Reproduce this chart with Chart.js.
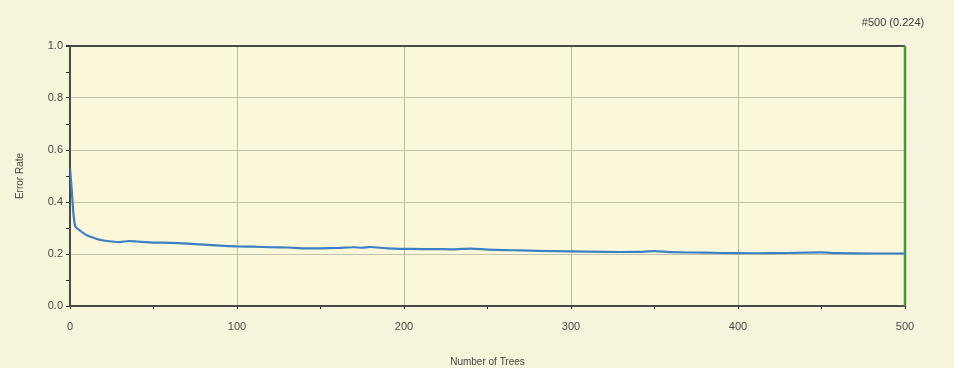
<!DOCTYPE html>
<html lang="en">
<head>
    <meta charset="UTF-8">
    <title>Error Rate vs Number of Trees</title>
    <script src="https://cdnjs.cloudflare.com/ajax/libs/Chart.js/4.4.0/chart.umd.min.js"></script>
    <style>
        html, body {
            margin: 0;
            padding: 0;
            background: #f7f4dc;
        }
        .chart-container {
            width: 954px;
            height: 368px;
        }
    </style>
</head>
<body>
    <div class="chart-container">
        <canvas id="errChart"></canvas>
    </div>

    <script>
        // Values
        const trees = [0, 1, 2, 3, 4, 6, 8, 10, 13, 16, 20, 25, 30, 35, 40, 45, 50, 60, 70, 80, 90, 100,
            110, 120, 130, 140, 150, 160, 170, 175, 180, 190, 200, 210, 220, 230, 240, 250, 260, 270,
            280, 300, 320, 340, 350, 360, 380, 400, 420, 440, 450, 460, 480, 500];
        const errorRate = [0.53, 0.45, 0.36, 0.31, 0.30, 0.29, 0.28, 0.272, 0.265, 0.258, 0.252, 0.248, 0.246, 0.25, 0.248, 0.246, 0.244, 0.243, 0.24, 0.236, 0.232, 0.229,
            0.228, 0.226, 0.225, 0.222, 0.222, 0.223, 0.226, 0.224, 0.227, 0.222, 0.22, 0.219, 0.219, 0.218, 0.221, 0.217, 0.215, 0.214,
            0.212, 0.21, 0.208, 0.208, 0.211, 0.207, 0.205, 0.203, 0.203, 0.205, 0.206, 0.203, 0.202, 0.202];
        const lastTree = 500;
        const markerLabel = '#500 (0.224)';

        const yMajor = [0, 0.2, 0.4, 0.6, 0.8, 1.0];
        const xMajor = [0, 100, 200, 300, 400, 500];

        const isMajor = (list, v) => list.some(m => Math.abs(m - v) < 1e-6);
        const font = '"Liberation Sans", Arial, sans-serif';

        const bgPlugin = {
            id: 'bg',
            beforeDraw(chart) {
                const { ctx, chartArea } = chart;
                ctx.save();
                ctx.fillStyle = '#f7f4dc';
                ctx.fillRect(0, 0, chart.width, chart.height);
                ctx.fillStyle = '#faf7da';
                ctx.fillRect(chartArea.left, chartArea.top, chartArea.right - chartArea.left, chartArea.bottom - chartArea.top);
                ctx.restore();
            },
            afterDraw(chart) {
                const { ctx } = chart;
                const xs = chart.scales.x;
                ctx.save();
                ctx.font = '11px ' + font;
                ctx.fillStyle = '#3c3c3c';
                ctx.textAlign = 'center';
                ctx.fillText(markerLabel, xs.getPixelForValue(lastTree) - 12, 26);
                ctx.restore();
            }
        };

        new Chart(document.getElementById('errChart'), {
            type: 'line',
            data: {
                datasets: [{
                    label: 'Error Rate',
                    data: trees.map((t, i) => ({ x: t, y: errorRate[i] })),
                    borderColor: '#3b80c4',
                    borderWidth: 2.2,
                    pointRadius: 0,
                    tension: 0.2
                }, {
                    label: 'Current',
                    data: [{ x: lastTree, y: 0 }, { x: lastTree, y: 1 }],
                    borderColor: '#3f9c3a',
                    borderWidth: 2.5,
                    pointRadius: 0,
                    clip: false
                }]
            },
            options: {
                responsive: true,
                maintainAspectRatio: false,
                animation: false,
                layout: {
                    padding: { left: 14, right: 49, top: 46, bottom: 0 }
                },
                plugins: {
                    legend: { display: false },
                    tooltip: { enabled: false }
                },
                scales: {
                    x: {
                        type: 'linear',
                        min: 0,
                        max: 500,
                        afterFit(scale) { scale.height = 62; },
                        afterBuildTicks(scale) {
                            const t = [];
                            for (let v = 0; v <= 500; v += 50) t.push({ value: v });
                            scale.ticks = t;
                        },
                        border: { color: '#4a4a44', width: 2 },
                        grid: {
                            color: ctx => (ctx.tick && isMajor(xMajor, ctx.tick.value) && ctx.tick.value !== 0 && ctx.tick.value !== 500) ? '#bdbca6' : 'rgba(0,0,0,0)',
                            tickColor: '#2a2a2a',
                            tickLength: 3,
                            lineWidth: 1
                        },
                        ticks: {
                            padding: 11,
                            color: '#4a4a46',
                            font: { family: font, size: 11 },
                            callback: v => isMajor(xMajor, v) ? String(v) : ''
                        },
                        title: {
                            display: true,
                            text: 'Number of Trees',
                            color: '#444440',
                            font: { family: font, size: 10 },
                            padding: { top: 6, bottom: 0 }
                        }
                    },
                    y: {
                        min: 0,
                        max: 1,
                        afterFit(scale) { scale.width = 56; },
                        afterBuildTicks(scale) {
                            const t = [];
                            for (let i = 0; i <= 10; i++) t.push({ value: i / 10 });
                            scale.ticks = t;
                        },
                        border: { color: '#4a4a44', width: 2 },
                        grid: {
                            color: ctx => {
                                if (!ctx.tick) return 'rgba(0,0,0,0)';
                                const v = ctx.tick.value;
                                if (Math.abs(v - 1) < 1e-6) return '#4a4a44';
                                if (v > 1e-6 && isMajor(yMajor, v)) return '#c4c2ac';
                                return 'rgba(0,0,0,0)';
                            },
                            lineWidth: ctx => (ctx.tick && Math.abs(ctx.tick.value - 1) < 1e-6) ? 2 : 1,
                            tickColor: '#2a2a2a',
                            tickLength: 4
                        },
                        ticks: {
                            padding: 3,
                            color: '#4a4a46',
                            font: { family: font, size: 11 },
                            callback: v => isMajor(yMajor, v) ? v.toFixed(1) : ''
                        },
                        title: {
                            display: true,
                            text: 'Error Rate',
                            color: '#444440',
                            font: { family: font, size: 10 },
                            padding: { top: 0, bottom: 4 }
                        }
                    }
                }
            },
            plugins: [bgPlugin]
        });
    </script>
</body>
</html>
